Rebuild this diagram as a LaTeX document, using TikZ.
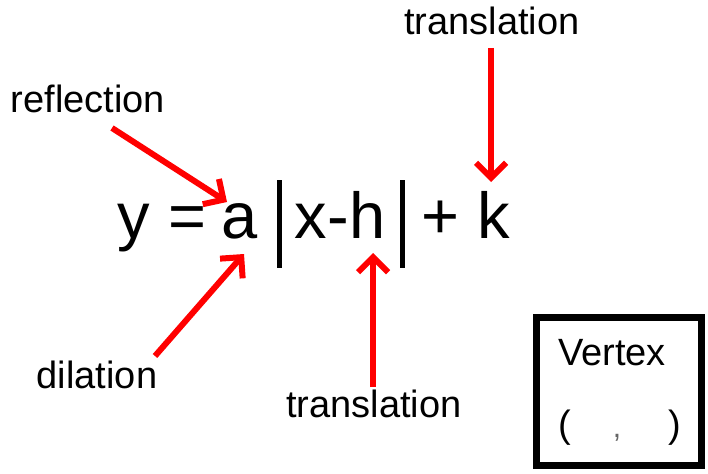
\documentclass[tikz,border=0pt]{standalone}
\usepackage{fontspec}
\setmainfont{Liberation Sans}
\usetikzlibrary{arrows.meta}
\tikzset{
  lbl/.style={inner sep=0pt, anchor=base, font=\fontsize{38}{40}\selectfont},
  eq/.style={inner sep=0pt, anchor=base, font=\fontsize{65}{70}\selectfont},
  redarrow/.style={draw=red, line width=6pt, -{Straight Barb[length=15pt,width=30pt]}},
  absbar/.style={line width=5pt},
  vbox/.style={draw, line width=7pt, minimum width=165pt, minimum height=148pt, inner sep=0pt}
}
\begin{document}
\begin{tikzpicture}[x=1pt,y=-1pt]
\useasboundingbox (0,0) rectangle (708,473);
% equation
\node[eq] (ey) at (134,238) {y};
\node[eq] (eeq) at (187,238) {=};
\node[eq] (ea) at (240,238) {a};
\node[eq] (exh) at (340,238) {x-h};
\node[eq] (eplus) at (440,238) {+};
\node[eq] (ek) at (494,238) {k};
\coordinate (b1t) at (279,180);
\coordinate (b1b) at (279,268);
\coordinate (b2t) at (402,180);
\coordinate (b2b) at (402,268);
\draw[absbar] (b1t) -- (b1b);
\draw[absbar] (b2t) -- (b2b);
% labels
\node[lbl] (ltop) at (492,35) {translation};
\node[lbl] (lref) at (88,113) {reflection};
\node[lbl] (ldil) at (97,388) {dilation};
\node[lbl] (lbot) at (374,417) {translation};
% arrow endpoints
\coordinate (ts) at (491,48);
\coordinate (tt) at (491,182);
\coordinate (rs) at (112,128);
\coordinate (rt) at (227,202);
\coordinate (ds) at (155,356);
\coordinate (dt) at (244,254);
\coordinate (bs) at (373,387);
\coordinate (bt) at (373,253);
\draw[redarrow] (ts) -- (tt);
\draw[redarrow] (rs) -- (rt);
\draw[redarrow] (ds) -- (dt);
\draw[redarrow] (bs) -- (bt);
% vertex box
\node[vbox] (vb) at (618.5,391) {};
\node[lbl] (vt) at (612,365) {Vertex};
\node[lbl] (vl) at (565,437) {(};
\node[lbl, font=\fontsize{30}{32}\selectfont, text=black!60] (vc) at (617,437) {,};
\node[lbl] (vr) at (675,437) {)};
\end{tikzpicture}
\end{document}
